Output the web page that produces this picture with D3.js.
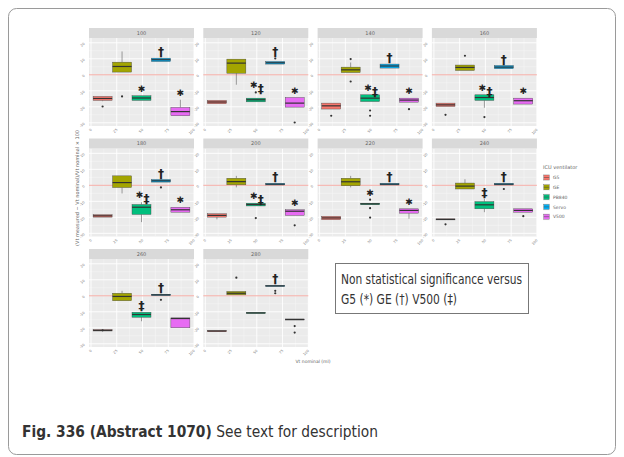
<!DOCTYPE html>
<html>
<head>
<meta charset="utf-8">
<script src="https://cdn.jsdelivr.net/npm/d3@7/dist/d3.min.js"></script>
<style>
body { margin: 0; background: #fff; }
text { font-family: "DejaVu Sans", sans-serif; }
</style>
</head>
<body>
<script>
// ---- data ----
var facets = ["100", "120", "140", "160", "180", "200", "220", "240", "260", "280"]
var ventilators = ["G5", "GE", "PB840", "Servo", "V500"]
var palette = ["#F8766D", "#A3A500", "#00BF7D", "#00B0F6", "#E76BF3"]
var yTicks = [-30, -20, -10, 0, 10, 20]
var xTicks = ["0", "25", "50", "75", "100"]

// [lower whisker, q1, median, q3, upper whisker], one entry per facet
var statsG5 = [[-16.5,-16,-14.8,-13.5,-13.5],[-18.1,-18.1,-17,-16,-16],[-21.4,-21.4,-19.4,-17.7,-17.7],[-19.8,-19.8,-18.8,-17.7,-17.7],[-19.9,-19.9,-19.1,-18.4,-18.4],
               [-21.3,-19.9,-18.8,-17.8,-17.8],[-21.5,-21.5,-20.4,-19.4,-19.4],[-21.6,-21.6,-21.3,-21,-21],[-22,-22,-21.6,-21.2,-21.2],[-22.2,-22.2,-22,-21.8,-21.8]]
var statsGE = [[1.7,1.7,5.2,7.9,14.6],[-6.2,1,7.3,9.8,9.8],[1.4,1.4,3.1,4.8,7.7],[2.7,2.7,4.6,6.1,6.1],[-5.1,-1.4,1.7,5.9,5.9],
               [-1.3,0.3,2.3,4.4,5.9],[-1.3,-0.3,2.2,4.4,5.9],[-2.3,-2.3,-0.5,1.4,3.8],[-3.1,-3.1,-0.4,1.6,3.1],[0.6,0.6,1.6,2.7,2.7]]
var statsPB = [[-16,-16,-14.5,-13.1,-13.1],[-16.9,-16.9,-15.6,-14.6,-14.6],[-16.7,-16.7,-14.6,-12.5,-12.5],[-20.6,-16,-14.2,-12.5,-12.5],[-23,-18.2,-13.7,-12,-10.6],
               [-12.9,-12.9,-12,-11.2,-11.2],[-12.1,-12.1,-11.6,-11.2,-11.2],[-16.8,-14.7,-12.2,-10.2,-8.5],[-15.9,-13.4,-11.7,-10.3,-10.3],[-11,-11,-10.7,-10.4,-10.4]]
var statsServo = [[8.3,8.3,9.4,10.4,10.4],[6.7,6.7,7.5,8.3,8.3],[4.2,4.2,5.5,6.7,6.7],[3.8,3.8,4.8,5.8,5.8],[2,2,2.8,3.6,3.6],
                  [0.2,0.2,0.7,1.2,1.2],[0.2,0.2,0.7,1.2,1.2],[0.2,0.2,0.7,1.2,1.2],[0.2,0.2,0.6,1,1],[5.9,5.9,6.2,6.5,6.5]]
var statsV500 = [[-25.6,-25.6,-23,-20.4,-15.6],[-20.2,-20.2,-17.7,-14.2,-14.2],[-17.1,-17.1,-15.8,-14.6,-14.6],[-18.3,-18.3,-16.2,-14.6,-14.6],[-16.8,-16.8,-15.3,-13.7,-13.7],
                 [-18.8,-18.8,-16.2,-15.3,-15.3],[-20.9,-17.4,-15.7,-14.7,-14.7],[-16.8,-16.8,-15.7,-14.7,-14.7],[-20,-20,-14.2,-13.8,-13.8],[-15.1,-15.1,-14.8,-14.5,-14.5]]

// [facet, ventilator, value]
var outliers = [[0,0,-19.8],[0,1,-13.5],[1,2,-11],[1,3,10.2],[1,4,-29.8],[2,0,-25.6],[2,1,9.8],[2,1,-4.2],[2,2,-22.3],[2,2,-25.6],[2,4,-21.5],
                [3,0,-25],[3,1,11.9],[3,2,-26.4],[4,3,-1.3],[5,2,-20.5],[5,4,-25],[6,2,-9],[6,2,-14.3],[6,2,-20.2],[7,0,-24.4],[7,3,-2.3],[7,4,-19.3],
                [8,0,-21.6],[8,3,-2.5],[9,1,11.3],[9,3,3.1],[9,3,1.6],[9,4,-18.9],[9,4,-23]]

// [facet, ventilator, symbols]
var marks = [[0,2,"*"],[0,3,"†"],[0,4,"*"],[1,2,"*‡"],[1,3,"†"],[1,4,"*"],[2,2,"*‡"],[2,3,"†"],[2,4,"*"],[3,2,"*‡"],[3,3,"†"],[3,4,"*"],
             [4,2,"*‡"],[4,3,"†"],[4,4,"*"],[5,2,"*‡"],[5,3,"†"],[5,4,"*"],[6,2,"*"],[6,3,"†"],[6,4,"*"],[7,2,"‡"],[7,3,"†"],[8,2,"‡"],[8,3,"†"],[9,3,"†"]]

var allStats = [statsG5, statsGE, statsPB, statsServo, statsV500]

// ---- layout ----
var svg = d3.select("body").append("svg").attr("width", 624).attr("height", 457)

svg.append("rect").attr("x", 8.5).attr("y", 8.5).attr("width", 607).attr("height", 446)
	.attr("rx", 8).attr("fill", "#fff").attr("stroke", "#9a9a9a").attr("stroke-width", 1)

var pw = 105, ph = 88, stripH = 10

var x = d3.scalePoint().domain(ventilators).range([0, pw]).padding(0.7)
var xt = d3.scaleLinear().domain([0, 4]).range([2, pw])

facets.forEach(function (f, fi) {
	var col = fi % 4, row = Math.floor(fi / 4)
	var left = 89 + col * 114.3, stripTop = 28 + row * 110.5, top = stripTop + stripH
	var y = d3.scaleLinear().domain([-32, 23]).range([ph, 0])

	var g = svg.append("g").attr("transform", "translate(" + left + "," + top + ")")

	// strip
	svg.append("rect").attr("x", left).attr("y", stripTop).attr("width", pw).attr("height", stripH).attr("fill", "#d9d9d9")
	svg.append("text").attr("x", left + pw / 2).attr("y", stripTop + stripH / 2 + 1.8)
		.attr("text-anchor", "middle").attr("font-size", 5).attr("fill", "#666").text(f)

	g.append("rect").attr("width", pw).attr("height", ph).attr("fill", "#ebebeb")

	// grid
	var minor = d3.range(-35, 25, 5).filter(function (v) { return v % 10 != 0 && v > -32 && v < 23 })
	g.selectAll(".ymin").data(minor).enter().append("line")
		.attr("x1", 0).attr("x2", pw).attr("y1", y).attr("y2", y).attr("stroke", "#f6f6f6").attr("stroke-width", 0.5)
	g.selectAll(".xmin").data([0.5, 1.5, 2.5, 3.5]).enter().append("line")
		.attr("y1", 0).attr("y2", ph).attr("x1", xt).attr("x2", xt).attr("stroke", "#f6f6f6").attr("stroke-width", 0.5)
	g.selectAll(".ymaj").data(yTicks).enter().append("line")
		.attr("x1", 0).attr("x2", pw).attr("y1", y).attr("y2", y).attr("stroke", "#fff").attr("stroke-width", 0.9)
	g.selectAll(".xmaj").data(d3.range(5)).enter().append("line")
		.attr("y1", 0).attr("y2", ph).attr("x1", xt).attr("x2", xt).attr("stroke", "#fff").attr("stroke-width", 0.9)

	// reference line at 0
	g.append("line").attr("x1", 0).attr("x2", pw).attr("y1", y(0)).attr("y2", y(0))
		.attr("stroke", "#f08a80").attr("stroke-width", 0.7)

	// axis labels
	g.selectAll(".yl").data(yTicks).enter().append("text")
		.attr("transform", function (d) { return "translate(-4," + (y(d) + 1) + ") rotate(-45)" })
		.attr("text-anchor", "end").attr("font-size", 3.5).attr("fill", "#777").text(function (d) { return d })
	g.selectAll(".xl").data(xTicks).enter().append("text")
		.attr("transform", function (d, i) { return "translate(" + (xt(i) + 1) + "," + (ph + 4) + ") rotate(-45)" })
		.attr("text-anchor", "end").attr("font-size", 3.5).attr("fill", "#777").text(function (d) { return d })

	// boxes
	ventilators.forEach(function (v, vi) {
		var s = allStats[vi][fi], cx = x(v), bw = 19
		g.append("line").attr("x1", cx).attr("x2", cx).attr("y1", y(s[0])).attr("y2", y(s[1])).attr("stroke", "#444").attr("stroke-width", 0.5)
		g.append("line").attr("x1", cx).attr("x2", cx).attr("y1", y(s[3])).attr("y2", y(s[4])).attr("stroke", "#444").attr("stroke-width", 0.5)
		g.append("rect").attr("x", cx - bw / 2).attr("width", bw)
			.attr("y", y(s[3])).attr("height", Math.max(1, y(s[1]) - y(s[3])))
			.attr("fill", palette[vi]).attr("stroke", "#444").attr("stroke-width", 0.4)
		g.append("line").attr("x1", cx - bw / 2).attr("x2", cx + bw / 2).attr("y1", y(s[2])).attr("y2", y(s[2]))
			.attr("stroke", "#333").attr("stroke-width", 1.2)
	})

	g.selectAll(".out").data(outliers.filter(function (o) { return o[0] == fi })).enter().append("circle")
		.attr("cx", function (o) { return x(ventilators[o[1]]) }).attr("cy", function (o) { return y(o[2]) })
		.attr("r", 1.1).attr("fill", "#333")

	// significance marks
	marks.filter(function (m) { return m[0] == fi }).forEach(function (m) {
		var vi = m[1], cx = x(ventilators[vi])
		var topVal = allStats[vi][fi][4]
		outliers.forEach(function (o) { if (o[0] == fi && o[1] == vi && o[2] > topVal) topVal = o[2] })
		var base = y(topVal) - 2
		var syms = m[2].split("")
		syms.forEach(function (sy, k) {
			var dx = syms.length > 1 ? (k == 0 ? -2 : 5) : 0
			if (sy == "*") {
				g.append("text").attr("x", cx + dx).attr("y", base - 2).attr("text-anchor", "middle")
					.attr("font-size", 9).attr("fill", "#222").text("✱")
			} else {
				g.append("text").attr("x", cx + dx).attr("y", base + (k == 1 ? 3 : 0)).attr("text-anchor", "middle")
					.attr("font-size", 12).attr("font-weight", "bold").attr("fill", "#222").text(sy)
			}
		})
	})
})

// axis titles
svg.append("text").attr("transform", "translate(79,188) rotate(-90)").attr("text-anchor", "middle")
	.attr("font-size", 5).attr("fill", "#666").text("(Vt measured \u2212 Vt nominal)/Vt nominal × 100")
svg.append("text").attr("x", 313).attr("y", 363).attr("text-anchor", "middle")
	.attr("font-size", 4.5).attr("fill", "#666").text("Vt nominal (ml)")

// legend
var lg = svg.append("g").attr("transform", "translate(543,164)")
lg.append("text").attr("x", 0).attr("y", 5).attr("font-size", 5).attr("fill", "#666").text("ICU ventilator")
ventilators.forEach(function (v, i) {
	var ky = 10 + i * 9.8
	lg.append("rect").attr("x", 0).attr("y", ky).attr("width", 7).attr("height", 7).attr("fill", "#f2f2f2")
	lg.append("rect").attr("x", 0.8).attr("y", ky + 1).attr("width", 5.4).attr("height", 5).attr("fill", palette[i]).attr("stroke", "#555").attr("stroke-width", 0.3)
	lg.append("line").attr("x1", 0.8).attr("x2", 6.2).attr("y1", ky + 3.5).attr("y2", ky + 3.5).attr("stroke", "#444").attr("stroke-width", 0.5)
	lg.append("text").attr("x", 10).attr("y", ky + 5.2).attr("font-size", 4.5).attr("fill", "#666").text(v)
})

// note box
svg.append("rect").attr("x", 335.5).attr("y", 263.5).attr("width", 193).attr("height", 50)
	.attr("fill", "#fff").attr("stroke", "#777").attr("stroke-width", 1)
svg.append("text").attr("x", 341).attr("y", 284).attr("font-family", "Open Sans").attr("font-size", 13.5)
	.attr("textLength", 181).attr("lengthAdjust", "spacingAndGlyphs").attr("fill", "#333").text("Non statistical significance versus")
svg.append("text").attr("x", 341).attr("y", 304).attr("font-family", "Open Sans").attr("font-size", 13.5)
	.attr("textLength", 116).attr("lengthAdjust", "spacingAndGlyphs").attr("fill", "#333").text("G5 (*) GE (†) V500 (‡)")

// caption
var cap = svg.append("text").attr("x", 22).attr("y", 437).attr("font-family", "Open Sans").attr("font-size", 15)
	.attr("textLength", 356).attr("lengthAdjust", "spacingAndGlyphs").attr("fill", "#333")
cap.append("tspan").attr("font-weight", "bold").text("Fig. 336 (Abstract 1070)")
cap.append("tspan").text(" See text for description")
</script>
</body>
</html>
